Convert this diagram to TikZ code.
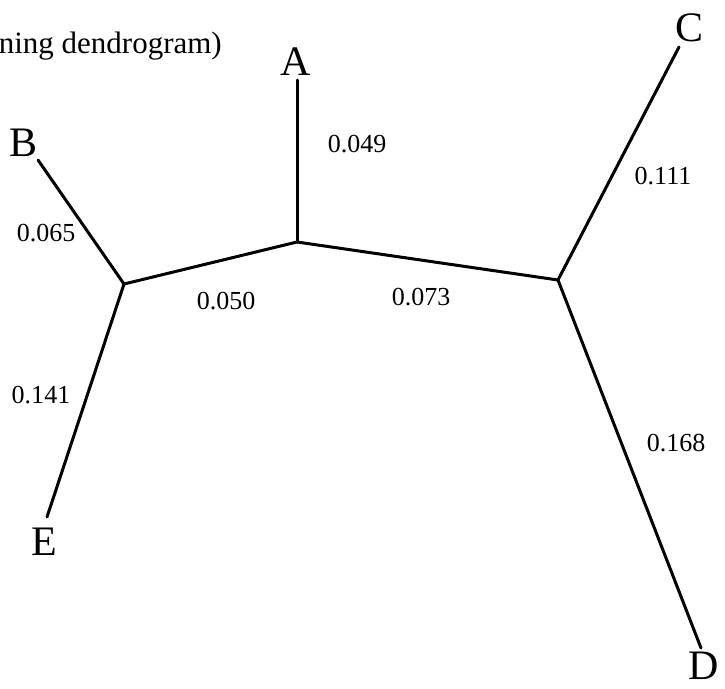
\documentclass[tikz,border=0pt]{standalone}
\usepackage{fontspec}
\setmainfont{Liberation Serif}
\begin{document}
\begin{tikzpicture}[x=1pt,y=-1pt,
  branch/.style={line width=3pt, line cap=round, line join=round},
  leaf/.style={font=\fontsize{42}{42}\selectfont, inner sep=0pt},
  len/.style={font=\fontsize{26}{26}\selectfont, inner sep=0pt},
  caption/.style={font=\fontsize{31}{31}\selectfont, inner sep=0pt, anchor=base east}]
\useasboundingbox (0,0) rectangle (725,688);

% caption, running off the left edge
\begin{scope}
  \clip (0,0) rectangle (725,688);
  \node[caption] (cap) at (222,53) {ning dendrogram)};
\end{scope}

% internal junctions
\coordinate (j1) at (297,242);
\coordinate (j2) at (124,284);
\coordinate (j3) at (558,280);

% branch tips
\coordinate (tA) at (297,80);
\coordinate (tB) at (38,160);
\coordinate (tC) at (679,47);
\coordinate (tD) at (701,648);
\coordinate (tE) at (47,517);

% leaf names
\node[leaf] (A) at (296,62) {A};
\node[leaf] (B) at (24,143) {B};
\node[leaf] (C) at (689,28) {C};
\node[leaf] (D) at (704,666) {D};
\node[leaf] (E) at (44,542) {E};

% branches
\draw[branch] (j1) -- (tA);
\draw[branch] (j1) -- (j2);
\draw[branch] (j1) -- (j3);
\draw[branch] (j2) -- (tB);
\draw[branch] (j2) -- (tE);
\draw[branch] (j3) -- (tC);
\draw[branch] (j3) -- (tD);

% branch lengths
\node[len] (lA)  at (357,144) {0.049};
\node[len] (lB)  at (46,233)  {0.065};
\node[len] (l12) at (226,301) {0.050};
\node[len] (l13) at (421,297) {0.073};
\node[len] (lC)  at (663,176) {0.111};
\node[len] (lE)  at (41,395)  {0.141};
\node[len] (lD)  at (676,443) {0.168};
\end{tikzpicture}
\end{document}
